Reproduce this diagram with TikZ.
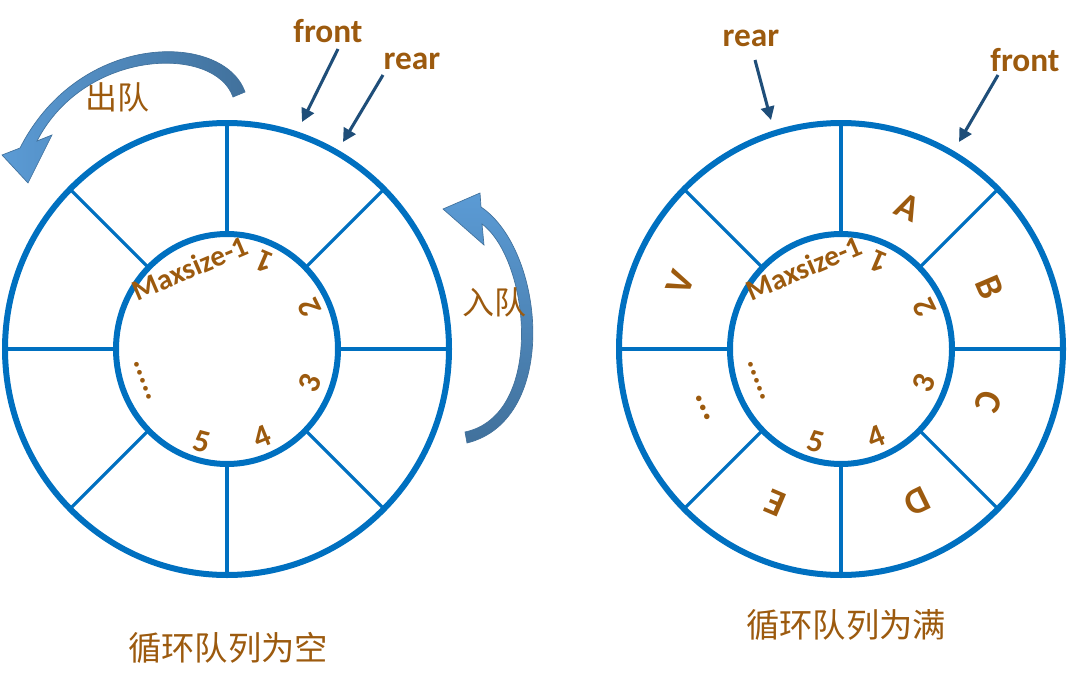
\documentclass[tikz,border=0pt]{standalone}
\usepackage{fontspec}
\newfontfamily\calfont{Carlito}
\newfontfamily\cjkfont{Noto Sans CJK SC}
\usetikzlibrary{arrows.meta,calc}
\definecolor{ringblue}{HTML}{0070C0}
\definecolor{txtbrown}{HTML}{9C5A0E}
\definecolor{ptrblue}{HTML}{1F4E79}
\definecolor{flowlight}{HTML}{5B9BD5}
\definecolor{flowdark}{HTML}{41719C}

\begin{document}
\begin{tikzpicture}[x=0.75pt,y=-0.75pt]
  \tikzset{
    ring/.style={draw=ringblue,line width=4.5pt},
    spoke/.style={draw=ringblue,line width=2.4pt},
    idx/.style={text=txtbrown,font=\calfont\bfseries\fontsize{22}{22}\selectfont,inner sep=0pt},
    digit/.style={idx,font=\calfont\bfseries\fontsize{24}{24}\selectfont},
    elem/.style={text=txtbrown,font=\calfont\bfseries\fontsize{28}{28}\selectfont,inner sep=0pt},
    ptrlabel/.style={text=txtbrown,font=\calfont\bfseries\fontsize{25}{25}\selectfont,inner sep=0pt},
    cjk/.style={text=txtbrown,font=\cjkfont\fontsize{24}{24}\selectfont,inner sep=0pt},
    caption/.style={cjk,font=\cjkfont\fontsize{25}{25}\selectfont},
    ptr/.style={draw=ptrblue,line width=2.3pt,-{Triangle[length=10pt,width=10pt]}},
    flow/.style={draw=flowdark,line width=0.5pt},
  }
  \useasboundingbox (0,0) rectangle (1080,685);

  % the two rings, slots numbered on the inner circle
  \foreach \cx/\nm in {227/emp,841/ful}{
    \foreach \a in {0,45,...,315}
      \draw[spoke] ({\cx+111*cos(\a)},{349+115*sin(\a)}) -- ({\cx+222*cos(\a)},{349+226*sin(\a)});
    \draw[ring] (\cx,349) ellipse [x radius=222,y radius=226];
    \draw[ring] (\cx,349) ellipse [x radius=111,y radius=115];
    \node[idx,rotate=23]    (\nm-max) at (\cx-37,268) {Maxsize-1};
    \node[digit,rotate=157] (\nm-1) at (\cx+38,262) {1};
    \node[digit,rotate=116] (\nm-2) at (\cx+83,308) {2};
    \node[digit,rotate=68]  (\nm-3) at (\cx+83,383) {3};
    \node[digit,rotate=22]  (\nm-4) at (\cx+35,437) {4};
    \node[digit,rotate=-15] (\nm-5) at (\cx-25,442) {5};
    \node[digit,rotate=-70] (\nm-dots) at (\cx-84,381) {.....};
  }

  % elements of the full queue
  \node[elem,rotate=-25] (ful-a) at (908,207) {A};
  \node[elem,rotate=-67] (ful-b) at (990,287) {B};
  \node[elem,rotate=-110] (ful-c) at (988,402) {C};
  \node[elem,rotate=-154] (ful-d) at (917,502) {D};
  \node[elem,rotate=157] (ful-e) at (775,503) {E};
  \node[elem,rotate=113] (ful-etc) at (703,408) {...};
  \node[elem,rotate=68] (ful-v) at (680,283) {V};

  % front / rear pointers
  \node[ptrlabel] (emp-front) at (328,31) {front};
  \node[ptrlabel] (emp-rear)  at (412,61) {rear};
  \node[ptrlabel] (ful-rear)  at (751,38) {rear};
  \node[ptrlabel] (ful-front) at (1025,60) {front};
  \coordinate (emp-fs) at (338,49);  \coordinate (emp-fe) at (302,122);
  \coordinate (emp-rs) at (383,75);  \coordinate (emp-re) at (343,142);
  \coordinate (ful-rs) at (755,60);  \coordinate (ful-re) at (771,120);
  \coordinate (ful-fs) at (998,75);  \coordinate (ful-fe) at (959,142);
  \draw[ptr] (emp-fs) -- (emp-fe);
  \draw[ptr] (emp-rs) -- (emp-re);
  \draw[ptr] (ful-rs) -- (ful-re);
  \draw[ptr] (ful-fs) -- (ful-fe);

  % dequeue / enqueue block arrows
  \path[flow,left color=flowlight,right color=flowdark]
    (245,92) .. controls (224,32) and (80,30) .. (20,148) -- (2,155) -- (28,183)
    -- (52,135) -- (37,141) .. controls (85,48) and (215,45) .. (233,97) -- cycle;
  \path[flow,top color=flowlight,bottom color=flowdark]
    (467,443) .. controls (560,420) and (545,250) .. (481,207) -- (480,193) -- (443,209)
    -- (484,245) -- (482,224) .. controls (530,260) and (545,415) .. (465,432) -- cycle;
  \node[cjk] (deq) at (117,97) {出队};
  \node[cjk] (enq) at (494,302) {入队};

  % captions
  \node[caption] (cap-emp) at (228,648) {循环队列为空};
  \node[caption] (cap-ful) at (846,625) {循环队列为满};
\end{tikzpicture}
\end{document}
